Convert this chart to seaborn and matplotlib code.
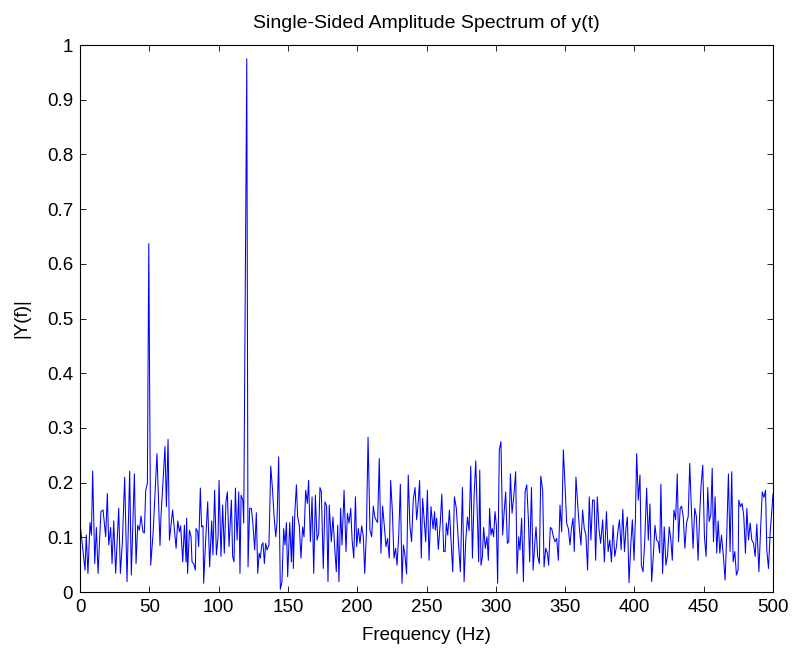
import numpy as np
import pandas as pd
import matplotlib
matplotlib.use("Agg")
import matplotlib.pyplot as plt
import matplotlib.ticker as mticker
import seaborn as sns

# Frequency (Hz) and |Y(f)|
freq_hz = [
    0, 3.6, 4.5, 5.7, 7.2, 8.2, 9.1, 10.6, 11.8, 13.0, 15.1, 16.6, 18.5, 19.7, 20.7, 22.1, 23.1, 24.3,
    25.7, 27.9, 29.1, 30.5, 32.2, 33.9, 35.8, 37.0, 39.2, 40.4, 41.6, 42.8, 44.0, 45.4, 46.4, 47.4,
    48.6, 49.6, 51.0, 52.7, 55.5, 57.7, 58.4, 61.3, 62.3, 63.5,
    64.5, 66.8, 68.5, 69.3, 70.5, 71.7, 72.6, 74.1, 75.3, 76.5, 76.9, 77.6, 78.9, 80.1, 80.8, 82.0,
    83.2, 83.7, 84.9, 85.6, 86.8, 87.7, 88.7, 89.2, 90.4, 92.1, 93.5, 95.0, 95.9, 97.1, 98.4, 99.6,
    100.3, 101.7, 102.9, 104.1, 105.3, 106.3, 107.5, 109.2, 110.1, 111.1, 112.1, 113.3, 114.5, 115.4,
    116.2, 117.4, 118.1, 120.3, 121.2, 122.4, 123.6, 124.6,
    126.0, 127.2, 128.2, 129.2, 130.1, 131.1, 132.0, 133.0, 133.9, 134.9, 136.3, 137.6, 138.8, 140.0,
    141.2, 142.1, 143.3, 144.5, 145.7, 146.9, 147.9, 148.9, 149.8, 151.3, 152.5, 153.4, 153.9, 154.9,
    156.1, 157.0, 158.2, 159.4, 160.6, 161.6, 162.8, 164.0, 164.9, 166.2, 167.4, 168.6, 169.8, 171.0,
    172.2, 173.1, 174.1, 175.5, 176.7, 177.9, 178.9, 179.8, 181.3, 182.5, 183.7, 184.9, 185.9, 186.8,
    188.0, 189.0,
    190.5, 191.9, 192.9, 194.1, 195.3, 196.3, 197.5, 198.7, 199.6, 200.8, 202.0, 203.2, 204.4, 205.4,
    206.6, 207.8, 209.2, 210.4, 211.6, 212.6, 213.5, 214.7, 215.9, 217.1, 218.3, 219.5, 220.7, 221.9,
    223.1, 224.1, 225.3, 226.5, 227.7, 228.7, 229.9, 231.1, 232.3, 233.3, 234.4, 235.6, 236.8, 238.0,
    239.2, 240.4, 241.7, 242.9, 244.1, 245.0, 246.2, 247.2, 248.2, 249.4, 250.6, 251.8,
    253.2, 254.7, 255.8, 256.3, 257.3, 258.5, 259.9, 261.0, 262.4, 263.4, 264.3, 265.3, 266.5, 267.7,
    268.9, 270.1, 271.5, 272.9, 274.4, 275.9, 277.1, 278.3, 279.5, 280.7, 281.9, 283.1, 284.3, 285.5,
    286.7, 287.6, 288.4, 289.3, 290.3, 291.2, 292.4, 293.6, 294.6, 295.5, 296.5, 297.4, 298.4, 299.4,
    300.4, 301.3, 302.5, 303.7, 304.9, 306.1, 307.1, 308.3, 309.3, 310.5, 311.7, 312.9,
    314.3, 315.3, 316.5, 317.4, 318.6, 319.9, 321.1, 322.3, 323.5, 324.4, 325.7, 326.9, 328.1, 329.0,
    330.2, 331.4, 332.4, 333.8, 334.8, 336.0, 337.2, 338.1, 339.3, 340.3, 341.5, 342.7, 343.9, 345.1,
    346.3, 347.5, 348.7, 349.9, 351.1, 352.3, 353.5, 354.5, 355.7, 356.6, 357.8, 359.0, 360.2, 361.4,
    362.6, 363.8, 365.0, 366.2, 367.4, 368.6, 369.8, 371.0, 372.0, 373.2, 374.4, 375.6,
    377.1, 378.3, 379.8, 381.0, 382.2, 383.4, 384.6, 385.8, 387.0, 388.0, 389.2, 390.4, 391.6, 392.8,
    394.0, 394.9, 396.1, 397.3, 398.5, 399.7, 400.7, 401.6, 402.8, 404.0, 405.0, 406.2, 407.4, 408.8,
    410.0, 411.2, 412.4, 413.6, 414.8, 416.0, 417.2, 418.2, 419.1, 420.3, 421.5, 422.7, 423.9, 425.1,
    426.3, 427.3, 428.5, 429.7, 430.9, 431.8, 433.0, 434.0, 435.2, 436.4, 437.6, 438.8,
    439.9, 441.1, 442.3, 443.5, 444.7, 445.9, 447.1, 448.1, 449.3, 450.5, 451.7, 452.9, 453.9, 455.1,
    456.1, 457.0, 458.2, 459.4, 460.4, 461.6, 462.8, 464.2, 465.4, 466.6, 467.8, 469.0, 470.2, 471.2,
    472.4, 473.6, 474.8, 475.3, 476.5, 477.7, 478.9, 480.1, 481.1, 482.3, 483.5, 484.7, 485.9, 487.1,
    488.3, 489.8, 491.0, 492.2, 493.4, 494.6, 495.5, 496.7, 497.9, 499.1, 500.0,
]

amplitude = [
    0.126, 0.040, 0.104, 0.034, 0.127, 0.104, 0.221, 0.052, 0.118, 0.034, 0.147, 0.150, 0.101, 0.180,
    0.086, 0.118, 0.052, 0.130, 0.034, 0.153, 0.034, 0.089, 0.210, 0.019, 0.221, 0.031, 0.216, 0.052,
    0.122, 0.113, 0.139, 0.110, 0.108, 0.186, 0.199, 0.637, 0.049, 0.107, 0.253, 0.085, 0.138, 0.266,
    0.156, 0.279,
    0.095, 0.150, 0.101, 0.080, 0.130, 0.110, 0.121, 0.055, 0.122, 0.055, 0.135, 0.034, 0.113, 0.101,
    0.055, 0.052, 0.040, 0.116, 0.110, 0.083, 0.190, 0.119, 0.121, 0.016, 0.083, 0.165, 0.046, 0.130,
    0.068, 0.186, 0.068, 0.101, 0.204, 0.065, 0.159, 0.071, 0.165, 0.183, 0.083, 0.168, 0.065, 0.055,
    0.190, 0.095, 0.183, 0.034, 0.177, 0.168, 0.126, 0.975, 0.046, 0.153, 0.153, 0.129,
    0.077, 0.145, 0.034, 0.071, 0.062, 0.086, 0.090, 0.052, 0.089, 0.077, 0.086, 0.230, 0.190, 0.138,
    0.101, 0.126, 0.247, 0.005, 0.019, 0.116, 0.086, 0.127, 0.028, 0.127, 0.055, 0.138, 0.043, 0.141,
    0.196, 0.138, 0.122, 0.062, 0.119, 0.101, 0.186, 0.162, 0.204, 0.092, 0.174, 0.034, 0.177, 0.095,
    0.107, 0.191, 0.183, 0.043, 0.165, 0.157, 0.019, 0.159, 0.092, 0.137, 0.083, 0.037, 0.122, 0.019,
    0.153, 0.086,
    0.186, 0.074, 0.144, 0.126, 0.153, 0.095, 0.062, 0.174, 0.083, 0.116, 0.089, 0.121, 0.101, 0.034,
    0.107, 0.283, 0.113, 0.101, 0.157, 0.138, 0.132, 0.127, 0.244, 0.071, 0.157, 0.122, 0.083, 0.098,
    0.062, 0.204, 0.150, 0.062, 0.080, 0.049, 0.101, 0.197, 0.016, 0.086, 0.068, 0.033, 0.214, 0.122,
    0.092, 0.168, 0.191, 0.132, 0.168, 0.204, 0.062, 0.171, 0.135, 0.092, 0.186, 0.058,
    0.156, 0.116, 0.147, 0.113, 0.135, 0.078, 0.126, 0.179, 0.074, 0.074, 0.126, 0.104, 0.150, 0.095,
    0.037, 0.174, 0.153, 0.095, 0.037, 0.191, 0.019, 0.095, 0.137, 0.112, 0.230, 0.062, 0.174, 0.240,
    0.131, 0.055, 0.223, 0.049, 0.065, 0.118, 0.080, 0.101, 0.058, 0.153, 0.104, 0.116, 0.101, 0.147,
    0.122, 0.016, 0.260, 0.275, 0.104, 0.150, 0.183, 0.089, 0.092, 0.216, 0.144, 0.174,
    0.220, 0.034, 0.101, 0.077, 0.135, 0.019, 0.183, 0.196, 0.132, 0.055, 0.191, 0.040, 0.089, 0.119,
    0.065, 0.052, 0.212, 0.186, 0.046, 0.080, 0.071, 0.049, 0.118, 0.116, 0.101, 0.092, 0.098, 0.058,
    0.159, 0.110, 0.260, 0.196, 0.126, 0.116, 0.086, 0.116, 0.135, 0.074, 0.210, 0.162, 0.119, 0.086,
    0.150, 0.116, 0.104, 0.040, 0.174, 0.095, 0.168, 0.168, 0.058, 0.174, 0.116, 0.089,
    0.132, 0.055, 0.147, 0.074, 0.095, 0.055, 0.122, 0.065, 0.083, 0.110, 0.132, 0.077, 0.151, 0.074,
    0.119, 0.137, 0.017, 0.083, 0.132, 0.058, 0.135, 0.253, 0.168, 0.214, 0.049, 0.037, 0.092, 0.190,
    0.095, 0.161, 0.019, 0.065, 0.122, 0.095, 0.092, 0.071, 0.197, 0.034, 0.119, 0.049, 0.068, 0.119,
    0.095, 0.058, 0.150, 0.132, 0.216, 0.092, 0.153, 0.157, 0.138, 0.080, 0.126, 0.138,
    0.235, 0.150, 0.080, 0.153, 0.138, 0.058, 0.144, 0.196, 0.232, 0.101, 0.065, 0.191, 0.129, 0.141,
    0.226, 0.092, 0.174, 0.071, 0.130, 0.071, 0.104, 0.065, 0.022, 0.104, 0.216, 0.074, 0.220, 0.055,
    0.074, 0.031, 0.040, 0.168, 0.156, 0.162, 0.138, 0.071, 0.153, 0.095, 0.126, 0.095, 0.089, 0.065,
    0.124, 0.037, 0.113, 0.183, 0.173, 0.186, 0.077, 0.043, 0.107, 0.150, 0.180,
]

x_ticks = np.arange(0, 501, 50)
y_ticks = np.round(np.arange(0, 1.01, 0.1), 1)

spectrum = pd.DataFrame({"Frequency": freq_hz, "Amp": amplitude})

sns.set_theme(style="ticks", rc={
    "xtick.direction": "in", "ytick.direction": "in",
    "xtick.top": True, "ytick.right": True,
    "xtick.major.size": 4, "ytick.major.size": 4,
    "xtick.major.width": 0.6, "ytick.major.width": 0.6,
    "axes.linewidth": 0.8, "axes.edgecolor": "black",
    "text.color": "black", "axes.labelcolor": "black",
    "xtick.color": "black", "ytick.color": "black",
})
plt.rcParams['font.family'] = ['Liberation Sans', 'DejaVu Sans']

fig = plt.figure(figsize=(7.94, 6.48), dpi=100)
ax = fig.add_axes([0.1008, 0.0864, 0.8728, 0.8441])

sns.lineplot(data=spectrum, x="Frequency", y="Amp", ax=ax, color=(0, 0, 1),
             linewidth=0.75, sort=False, estimator=None)

ax.set_xlim(0, 500)
ax.set_ylim(0, 1)
ax.set_xticks(x_ticks)
ax.set_yticks(y_ticks)
ax.yaxis.set_major_formatter(mticker.FormatStrFormatter('%g'))
ax.tick_params(labelsize=13.5, colors="black", pad=5)
ax.set_title("Single-Sided Amplitude Spectrum of y(t)", fontsize=14, pad=12, color="black")
ax.set_xlabel("Frequency (Hz)", fontsize=13.5, labelpad=8)
ax.set_ylabel("|Y(f)|", fontsize=13.5, labelpad=12)

fig.savefig("out.png", dpi=100)
